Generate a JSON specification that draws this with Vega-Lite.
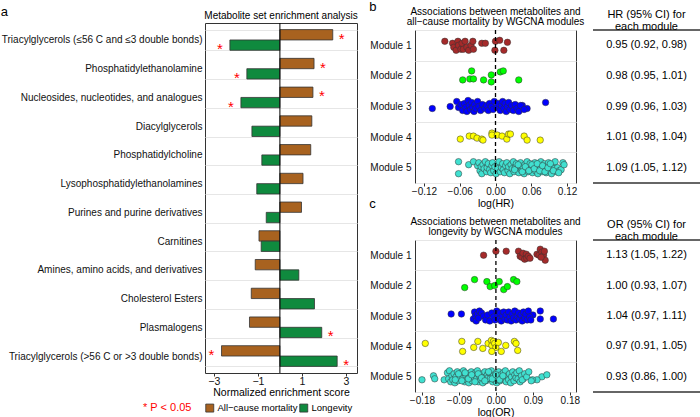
{
"$schema":"https://vega.github.io/schema/vega-lite/v6.json",
"padding":{"left":0,"top":1,"right":0,"bottom":0},
"background":"white",
"datasets":{
"mse":[
{"cls":"Triacylglycerols (≤56 C and ≤3 double bonds)","s":"All−cause mortality","v":2.4,"sig":true},
{"cls":"Triacylglycerols (≤56 C and ≤3 double bonds)","s":"Longevity","v":-2.27,"sig":true},
{"cls":"Phosphatidylethanolamine","s":"All−cause mortality","v":1.55,"sig":true},
{"cls":"Phosphatidylethanolamine","s":"Longevity","v":-1.5,"sig":true},
{"cls":"Nucleosides, nucleotides, and analogues","s":"All−cause mortality","v":1.5,"sig":true},
{"cls":"Nucleosides, nucleotides, and analogues","s":"Longevity","v":-1.77,"sig":true},
{"cls":"Diacylglycerols","s":"All−cause mortality","v":1.45,"sig":false},
{"cls":"Diacylglycerols","s":"Longevity","v":-1.27,"sig":false},
{"cls":"Phosphatidylcholine","s":"All−cause mortality","v":1.4,"sig":false},
{"cls":"Phosphatidylcholine","s":"Longevity","v":-0.82,"sig":false},
{"cls":"Lysophosphatidylethanolamines","s":"All−cause mortality","v":1.05,"sig":false},
{"cls":"Lysophosphatidylethanolamines","s":"Longevity","v":-1.05,"sig":false},
{"cls":"Purines and purine derivatives","s":"All−cause mortality","v":0.98,"sig":false},
{"cls":"Purines and purine derivatives","s":"Longevity","v":-0.62,"sig":false},
{"cls":"Carnitines","s":"All−cause mortality","v":-0.95,"sig":false},
{"cls":"Carnitines","s":"Longevity","v":-0.85,"sig":false},
{"cls":"Amines, amino acids, and derivatives","s":"All−cause mortality","v":-1.12,"sig":false},
{"cls":"Amines, amino acids, and derivatives","s":"Longevity","v":0.86,"sig":false},
{"cls":"Cholesterol Esters","s":"All−cause mortality","v":-1.3,"sig":false},
{"cls":"Cholesterol Esters","s":"Longevity","v":1.57,"sig":false},
{"cls":"Plasmalogens","s":"All−cause mortality","v":-1.38,"sig":false},
{"cls":"Plasmalogens","s":"Longevity","v":1.9,"sig":true},
{"cls":"Triacylglycerols (>56 C or >3 double bonds)","s":"All−cause mortality","v":-2.65,"sig":true},
{"cls":"Triacylglycerols (>56 C or >3 double bonds)","s":"Longevity","v":2.6,"sig":true}
],
"hr":[
{"m":1,"x":-0.085,"j":-4},{"m":1,"x":-0.072,"j":-2},{"m":1,"x":-0.070,"j":2},{"m":1,"x":-0.066,"j":5},{"m":1,"x":-0.063,"j":-4},{"m":1,"x":-0.062,"j":0},{"m":1,"x":-0.058,"j":4},{"m":1,"x":-0.056,"j":-2},{"m":1,"x":-0.054,"j":4},{"m":1,"x":-0.051,"j":-4},{"m":1,"x":-0.048,"j":2},{"m":1,"x":-0.045,"j":5},{"m":1,"x":-0.041,"j":0},{"m":1,"x":-0.038,"j":-4},{"m":1,"x":-0.037,"j":4},{"m":1,"x":-0.023,"j":-2},{"m":1,"x":-0.017,"j":-2},{"m":1,"x":-0.001,"j":5},{"m":1,"x":0.000,"j":-4},{"m":1,"x":0.007,"j":-5},{"m":1,"x":0.014,"j":5},{"m":1,"x":0.020,"j":-3},
{"m":2,"x":-0.040,"j":-5},{"m":2,"x":-0.055,"j":4},{"m":2,"x":-0.043,"j":3},{"m":2,"x":-0.037,"j":3},{"m":2,"x":-0.020,"j":4},{"m":2,"x":-0.007,"j":-1},{"m":2,"x":-0.007,"j":6},{"m":2,"x":0.008,"j":-4},{"m":2,"x":0.013,"j":-5},{"m":2,"x":0.039,"j":4},
{"m":3,"x":-0.106,"j":2},{"m":3,"x":-0.076,"j":0},{"m":3,"x":0.084,"j":-4},{"m":3,"x":0.053,"j":2},{"m":3,"x":0.045,"j":-1},
{"m":3,"x":-0.065,"j":-5},{"m":3,"x":-0.062,"j":1},{"m":3,"x":-0.058,"j":-2},{"m":3,"x":-0.055,"j":4},{"m":3,"x":-0.052,"j":-3},{"m":3,"x":-0.050,"j":1},{"m":3,"x":-0.048,"j":5},{"m":3,"x":-0.046,"j":-6},{"m":3,"x":-0.044,"j":-1},{"m":3,"x":-0.042,"j":3},{"m":3,"x":-0.040,"j":-4},{"m":3,"x":-0.038,"j":1},{"m":3,"x":-0.036,"j":5},{"m":3,"x":-0.035,"j":-2},{"m":3,"x":-0.033,"j":2},{"m":3,"x":-0.030,"j":-5},{"m":3,"x":-0.028,"j":0},{"m":3,"x":-0.025,"j":4},{"m":3,"x":-0.022,"j":-2},{"m":3,"x":-0.018,"j":2},{"m":3,"x":-0.015,"j":-1},{"m":3,"x":-0.012,"j":4},{"m":3,"x":-0.010,"j":-3},{"m":3,"x":-0.007,"j":0},{"m":3,"x":-0.004,"j":3},{"m":3,"x":-0.002,"j":-5},{"m":3,"x":0.002,"j":1},{"m":3,"x":0.005,"j":-3},{"m":3,"x":0.008,"j":4},{"m":3,"x":0.010,"j":-1},{"m":3,"x":0.012,"j":-5},{"m":3,"x":0.014,"j":2},{"m":3,"x":0.016,"j":-3},{"m":3,"x":0.018,"j":5},{"m":3,"x":0.020,"j":0},{"m":3,"x":0.022,"j":-4},{"m":3,"x":0.024,"j":3},{"m":3,"x":0.027,"j":-1},{"m":3,"x":0.030,"j":4},{"m":3,"x":0.033,"j":-2},{"m":3,"x":0.036,"j":2},{"m":3,"x":0.039,"j":5},{"m":3,"x":0.042,"j":-1},{"m":3,"x":0.048,"j":3},
{"m":4,"x":-0.059,"j":2},{"m":4,"x":-0.044,"j":-1},{"m":4,"x":-0.037,"j":-1},{"m":4,"x":-0.031,"j":1},{"m":4,"x":-0.023,"j":2},{"m":4,"x":-0.021,"j":3},{"m":4,"x":-0.006,"j":-4},{"m":4,"x":-0.006,"j":-2},{"m":4,"x":0.003,"j":-2},{"m":4,"x":0.011,"j":-1},{"m":4,"x":0.019,"j":2},{"m":4,"x":0.022,"j":-3},{"m":4,"x":0.025,"j":-3},{"m":4,"x":0.048,"j":-1},{"m":4,"x":0.053,"j":3},{"m":4,"x":0.075,"j":3},
{"m":5,"x":-0.062,"j":-6},{"m":5,"x":-0.062,"j":6},{"m":5,"x":-0.045,"j":-3},{"m":5,"x":-0.037,"j":-6},{"m":5,"x":-0.030,"j":-2},
{"m":5,"x":-0.028,"j":-5},{"m":5,"x":-0.026,"j":3},{"m":5,"x":-0.024,"j":-1},{"m":5,"x":-0.023,"j":6},{"m":5,"x":-0.021,"j":-3},{"m":5,"x":-0.019,"j":1},{"m":5,"x":-0.017,"j":-6},{"m":5,"x":-0.015,"j":4},{"m":5,"x":-0.014,"j":0},{"m":5,"x":-0.012,"j":-4},{"m":5,"x":-0.010,"j":2},{"m":5,"x":-0.008,"j":5},{"m":5,"x":-0.006,"j":-2},{"m":5,"x":-0.005,"j":-5},{"m":5,"x":-0.003,"j":3},{"m":5,"x":-0.001,"j":-1},{"m":5,"x":0.001,"j":6},{"m":5,"x":0.003,"j":-3},{"m":5,"x":0.004,"j":1},{"m":5,"x":0.006,"j":-6},{"m":5,"x":0.008,"j":4},{"m":5,"x":0.010,"j":0},{"m":5,"x":0.012,"j":-4},{"m":5,"x":0.013,"j":2},{"m":5,"x":0.015,"j":5},{"m":5,"x":0.017,"j":-2},{"m":5,"x":0.019,"j":-5},{"m":5,"x":0.021,"j":3},{"m":5,"x":0.022,"j":-1},{"m":5,"x":0.024,"j":6},{"m":5,"x":0.026,"j":-3},{"m":5,"x":0.028,"j":1},{"m":5,"x":0.030,"j":-6},{"m":5,"x":0.031,"j":4},{"m":5,"x":0.033,"j":0},{"m":5,"x":0.035,"j":-4},{"m":5,"x":0.037,"j":2},{"m":5,"x":0.039,"j":5},{"m":5,"x":0.040,"j":-2},{"m":5,"x":0.042,"j":-5},{"m":5,"x":0.044,"j":3},{"m":5,"x":0.046,"j":-1},{"m":5,"x":0.048,"j":6},{"m":5,"x":0.049,"j":-3},{"m":5,"x":0.051,"j":1},{"m":5,"x":0.053,"j":-6},{"m":5,"x":0.055,"j":4},{"m":5,"x":0.057,"j":0},{"m":5,"x":0.058,"j":-4},{"m":5,"x":0.060,"j":2},{"m":5,"x":0.062,"j":5},{"m":5,"x":0.064,"j":-2},{"m":5,"x":0.066,"j":-5},{"m":5,"x":0.067,"j":3},{"m":5,"x":0.069,"j":-1},{"m":5,"x":0.071,"j":6},{"m":5,"x":0.073,"j":-3},{"m":5,"x":0.075,"j":1},{"m":5,"x":0.076,"j":-6},{"m":5,"x":0.078,"j":4},{"m":5,"x":0.080,"j":0},{"m":5,"x":0.082,"j":-4},{"m":5,"x":0.084,"j":2},{"m":5,"x":0.085,"j":5},{"m":5,"x":0.087,"j":-2},{"m":5,"x":0.089,"j":-5},{"m":5,"x":0.091,"j":3},{"m":5,"x":0.093,"j":-1},{"m":5,"x":0.094,"j":6},{"m":5,"x":0.096,"j":-3},{"m":5,"x":0.098,"j":1},{"m":5,"x":0.100,"j":-6},{"m":5,"x":0.102,"j":4},{"m":5,"x":0.104,"j":0},{"m":5,"x":0.107,"j":3},{"m":5,"x":0.110,"j":2},{"m":5,"x":0.113,"j":-5},{"m":5,"x":0.115,"j":-3},
{"m":5,"x":0.032,"j":2},{"m":5,"x":0.038,"j":-3},{"m":5,"x":0.045,"j":4},{"m":5,"x":0.050,"j":-1},{"m":5,"x":0.056,"j":3},{"m":5,"x":0.061,"j":-3},{"m":5,"x":0.065,"j":1},{"m":5,"x":0.070,"j":-4},{"m":5,"x":0.074,"j":3},{"m":5,"x":0.079,"j":-2},{"m":5,"x":0.083,"j":4},{"m":5,"x":0.088,"j":0},{"m":5,"x":0.092,"j":-4},{"m":5,"x":0.097,"j":3},{"m":5,"x":0.106,"j":5}
],
"or":[
{"m":1,"x":-0.030,"j":0},{"m":1,"x":0.000,"j":-4},{"m":1,"x":0.025,"j":-4},{"m":1,"x":0.055,"j":-4},{"m":1,"x":0.059,"j":1},{"m":1,"x":0.063,"j":2},{"m":1,"x":0.066,"j":-2},{"m":1,"x":0.070,"j":4},{"m":1,"x":0.074,"j":-1},{"m":1,"x":0.075,"j":3},{"m":1,"x":0.079,"j":1},{"m":1,"x":0.083,"j":3},{"m":1,"x":0.100,"j":-1},{"m":1,"x":0.105,"j":0},{"m":1,"x":0.108,"j":-6},{"m":1,"x":0.112,"j":-3},{"m":1,"x":0.116,"j":0},{"m":1,"x":0.118,"j":-4},{"m":1,"x":0.120,"j":5},{"m":1,"x":0.110,"j":2},
{"m":2,"x":-0.076,"j":2},{"m":2,"x":-0.052,"j":-6},{"m":2,"x":-0.022,"j":-4},{"m":2,"x":-0.014,"j":1},{"m":2,"x":-0.003,"j":0},{"m":2,"x":0.008,"j":-4},{"m":2,"x":0.019,"j":4},{"m":2,"x":0.028,"j":1},{"m":2,"x":0.043,"j":-6},{"m":2,"x":0.051,"j":-4},
{"m":3,"x":-0.109,"j":-2},{"m":3,"x":-0.084,"j":-2},{"m":3,"x":0.140,"j":3},{"m":3,"x":0.108,"j":3},{"m":3,"x":0.108,"j":-5},{"m":3,"x":0.090,"j":-1},
{"m":3,"x":-0.055,"j":3},{"m":3,"x":-0.052,"j":-4},{"m":3,"x":-0.050,"j":0},{"m":3,"x":-0.048,"j":5},{"m":3,"x":-0.045,"j":-2},{"m":3,"x":-0.042,"j":2},{"m":3,"x":-0.040,"j":-5},{"m":3,"x":-0.035,"j":-3},{"m":3,"x":-0.030,"j":0},{"m":3,"x":-0.025,"j":4},{"m":3,"x":-0.020,"j":-1},{"m":3,"x":-0.015,"j":5},{"m":3,"x":-0.010,"j":-3},{"m":3,"x":-0.006,"j":1},{"m":3,"x":-0.002,"j":4},{"m":3,"x":0.002,"j":-5},{"m":3,"x":0.005,"j":-1},{"m":3,"x":0.008,"j":3},{"m":3,"x":0.010,"j":-3},{"m":3,"x":0.013,"j":5},{"m":3,"x":0.016,"j":0},{"m":3,"x":0.019,"j":-4},{"m":3,"x":0.022,"j":3},{"m":3,"x":0.025,"j":-1},{"m":3,"x":0.028,"j":4},{"m":3,"x":0.031,"j":-4},{"m":3,"x":0.034,"j":1},{"m":3,"x":0.037,"j":5},{"m":3,"x":0.040,"j":-2},{"m":3,"x":0.043,"j":2},{"m":3,"x":0.046,"j":-5},{"m":3,"x":0.049,"j":4},{"m":3,"x":0.052,"j":0},{"m":3,"x":0.055,"j":-3},{"m":3,"x":0.058,"j":3},{"m":3,"x":0.061,"j":-1},{"m":3,"x":0.064,"j":5},{"m":3,"x":0.067,"j":-4},{"m":3,"x":0.070,"j":2},{"m":3,"x":0.073,"j":-2},{"m":3,"x":0.076,"j":4},{"m":3,"x":0.079,"j":-5},{"m":3,"x":0.082,"j":1},{"m":3,"x":0.085,"j":4},
{"m":4,"x":-0.172,"j":-3},{"m":4,"x":-0.083,"j":-5},{"m":4,"x":-0.081,"j":5},{"m":4,"x":-0.054,"j":1},{"m":4,"x":-0.044,"j":-5},{"m":4,"x":-0.032,"j":2},{"m":4,"x":-0.019,"j":-3},{"m":4,"x":-0.011,"j":-6},{"m":4,"x":-0.010,"j":-1},{"m":4,"x":-0.006,"j":-5},{"m":4,"x":-0.003,"j":-3},{"m":4,"x":0.000,"j":1},{"m":4,"x":-0.010,"j":5},{"m":4,"x":0.006,"j":-4},{"m":4,"x":0.013,"j":5},{"m":4,"x":0.024,"j":-1},{"m":4,"x":0.045,"j":-5},{"m":4,"x":0.049,"j":-3},{"m":4,"x":0.053,"j":4},
{"m":5,"x":-0.180,"j":3},{"m":5,"x":-0.152,"j":-1},{"m":5,"x":-0.149,"j":2},{"m":5,"x":-0.126,"j":3},{"m":5,"x":0.112,"j":0},{"m":5,"x":0.124,"j":-2},{"m":5,"x":0.100,"j":3},{"m":5,"x":0.089,"j":3},{"m":5,"x":0.067,"j":2},
{"m":5,"x":-0.118,"j":-4},{"m":5,"x":-0.115,"j":2},{"m":5,"x":-0.113,"j":-6},{"m":5,"x":-0.110,"j":5},{"m":5,"x":-0.107,"j":-1},{"m":5,"x":-0.105,"j":3},{"m":5,"x":-0.102,"j":-3},{"m":5,"x":-0.100,"j":6},{"m":5,"x":-0.097,"j":0},{"m":5,"x":-0.094,"j":-5},{"m":5,"x":-0.092,"j":4},{"m":5,"x":-0.089,"j":-2},{"m":5,"x":-0.087,"j":1},{"m":5,"x":-0.084,"j":-4},{"m":5,"x":-0.081,"j":2},{"m":5,"x":-0.079,"j":-6},{"m":5,"x":-0.076,"j":5},{"m":5,"x":-0.073,"j":-1},{"m":5,"x":-0.071,"j":3},{"m":5,"x":-0.068,"j":-3},{"m":5,"x":-0.066,"j":6},{"m":5,"x":-0.063,"j":0},{"m":5,"x":-0.060,"j":-5},{"m":5,"x":-0.058,"j":4},{"m":5,"x":-0.055,"j":-2},{"m":5,"x":-0.053,"j":1},{"m":5,"x":-0.050,"j":-4},{"m":5,"x":-0.047,"j":2},{"m":5,"x":-0.045,"j":-6},{"m":5,"x":-0.042,"j":5},{"m":5,"x":-0.040,"j":-1},{"m":5,"x":-0.037,"j":3},{"m":5,"x":-0.034,"j":-3},{"m":5,"x":-0.032,"j":6},{"m":5,"x":-0.029,"j":0},{"m":5,"x":-0.027,"j":-5},{"m":5,"x":-0.024,"j":4},{"m":5,"x":-0.021,"j":-2},{"m":5,"x":-0.019,"j":1},{"m":5,"x":-0.016,"j":-4},{"m":5,"x":-0.014,"j":2},{"m":5,"x":-0.011,"j":-6},{"m":5,"x":-0.008,"j":5},{"m":5,"x":-0.006,"j":-1},{"m":5,"x":-0.003,"j":3},{"m":5,"x":-0.001,"j":-3},{"m":5,"x":0.002,"j":6},{"m":5,"x":0.005,"j":0},{"m":5,"x":0.007,"j":-5},{"m":5,"x":0.010,"j":4},{"m":5,"x":0.012,"j":-2},{"m":5,"x":0.015,"j":1},{"m":5,"x":0.018,"j":-4},{"m":5,"x":0.020,"j":2},{"m":5,"x":0.023,"j":-6},{"m":5,"x":0.025,"j":5},{"m":5,"x":0.028,"j":-1},{"m":5,"x":0.031,"j":3},{"m":5,"x":0.033,"j":-3},{"m":5,"x":0.036,"j":6},{"m":5,"x":0.038,"j":0},{"m":5,"x":0.041,"j":-5},{"m":5,"x":0.044,"j":4},{"m":5,"x":0.046,"j":-2},{"m":5,"x":0.049,"j":1},{"m":5,"x":0.051,"j":-4},{"m":5,"x":0.054,"j":2},{"m":5,"x":0.057,"j":-6},{"m":5,"x":0.059,"j":5},{"m":5,"x":0.062,"j":-1},{"m":5,"x":0.064,"j":3},{"m":5,"x":0.070,"j":-3},{"m":5,"x":0.075,"j":0},{"m":5,"x":0.080,"j":-5},{"m":5,"x":0.086,"j":4},
{"m":5,"x":-0.099,"j":3},{"m":5,"x":-0.091,"j":-3},{"m":5,"x":-0.083,"j":4},{"m":5,"x":-0.075,"j":-4},{"m":5,"x":-0.067,"j":2},{"m":5,"x":-0.059,"j":-2},{"m":5,"x":-0.051,"j":5},{"m":5,"x":-0.043,"j":-3},{"m":5,"x":-0.035,"j":1},{"m":5,"x":-0.027,"j":4},{"m":5,"x":-0.018,"j":-5},{"m":5,"x":-0.009,"j":2},{"m":5,"x":0.000,"j":-2},{"m":5,"x":0.009,"j":3},{"m":5,"x":0.017,"j":-1}
],
"hrtab":[
{"m":1,"t":"0.95 (0.92, 0.98)"},{"m":2,"t":"0.98 (0.95, 1.01)"},{"m":3,"t":"0.99 (0.96, 1.03)"},{"m":4,"t":"1.01 (0.98, 1.04)"},{"m":5,"t":"1.09 (1.05, 1.12)"}
],
"ortab":[
{"m":1,"t":"1.13 (1.05, 1.22)"},{"m":2,"t":"1.00 (0.93, 1.07)"},{"m":3,"t":"1.04 (0.97, 1.11)"},{"m":4,"t":"0.97 (0.91, 1.05)"},{"m":5,"t":"0.93 (0.86, 1.00)"}
]
},
"hconcat":[
{"title":{"text":"a","anchor":"start","frame":"bounds","fontSize":13,"offset":-8},
"vconcat":[
{
"width":152,"height":350,
"title":{"text":"Metabolite set enrichment analysis","fontSize":10,"offset":0,"dy":3},
"layer":[
{"data":{"name":"mse"},
"mark":{"type":"bar","stroke":"#333","strokeWidth":0.8},
"encoding":{
"y":{"field":"cls","type":"nominal","sort":null,"scale":{"paddingInner":0.28,"paddingOuter":0.23},
"axis":{"title":null,"grid":true,"tickBand":"extent","ticks":false,"labelPadding":3,"labelFontSize":10,"labelLimit":300}},
"yOffset":{"field":"s","type":"nominal","sort":["All−cause mortality","Longevity"]},
"x":{"field":"v","type":"quantitative","scale":{"domain":[-3.4,3.5],"nice":false},"axis":{"values":[-3,-2,-1,0,1,2,3],"title":"Normalized enrichment score","grid":false,"labelOverlap":false,"labelFontSize":10.5,"titleFontSize":10.5,"labelPadding":0,"titlePadding":1}},
"color":{"field":"s","type":"nominal","scale":{"domain":["All−cause mortality","Longevity"],"range":["#A8621F","#0F8A3E"]},
"legend":{"orient":"none","legendX":-62,"legendY":380,"direction":"horizontal","title":"* P < 0.05","titleOrient":"left","titleColor":"#FF0000","titleFontSize":11,"titleFontWeight":"normal","titlePadding":13,"symbolType":"square","symbolSize":64,"symbolStrokeColor":"#333","symbolStrokeWidth":0.8,"labelFontSize":9.5,"labelColor":"#000","columnPadding":0,"labelOffset":3}}
}},
{"data":{"values":[{}]},"mark":{"type":"rule","color":"#000","strokeWidth":1},"encoding":{"x":{"datum":0}}},
{"data":{"name":"mse"},"transform":[{"filter":"datum.sig && datum.v > 0"}],
"mark":{"type":"text","text":"*","color":"#FF0000","fontSize":15,"align":"center","baseline":"middle","dx":9,"dy":4},
"encoding":{"y":{"field":"cls","type":"nominal","sort":null},"yOffset":{"field":"s","type":"nominal"},"x":{"field":"v","type":"quantitative"}}},
{"data":{"name":"mse"},"transform":[{"filter":"datum.sig && datum.v < 0"}],
"mark":{"type":"text","text":"*","color":"#FF0000","fontSize":15,"align":"center","baseline":"middle","dx":-10,"dy":4},
"encoding":{"y":{"field":"cls","type":"nominal","sort":null},"yOffset":{"field":"s","type":"nominal"},"x":{"field":"v","type":"quantitative"}}}
]
}
]},
{
"vconcat":[
{"width":10,"height":1,"view":{"stroke":null},"data":{"values":[]},"mark":"point","encoding":{}},
{"vconcat":[
{"title":{"text":"b","anchor":"start","frame":"bounds","fontSize":13,"offset":-8},
"hconcat":[
{"width":161,"height":153,
"title":{"text":["Associations between metabolites and","all−cause mortality by WGCNA modules"],"fontSize":10,"lineHeight":10.5,"offset":-2},
"layer":[
{"data":{"name":"hr"},"mark":{"type":"circle","size":42,"opacity":1,"stroke":"#333","strokeWidth":0.5},
"encoding":{
"x":{"field":"x","type":"quantitative","scale":{"domain":[-0.135,0.135],"nice":false},"axis":{"values":[-0.12,-0.06,0,0.06,0.12],"format":".2f","title":"log(HR)","grid":false,"labelOverlap":false,"labelPadding":0,"titlePadding":2}},
"y":{"field":"m","type":"ordinal","scale":{"domain":[1,2,3,4,5],"paddingInner":0,"paddingOuter":0},"axis":{"title":null,"labelExpr":"datum.label ? 'Module ' + datum.label : ''","grid":true,"tickBand":"extent","ticks":false,"labelPadding":4,"labelFontSize":10}},
"yOffset":{"field":"j","type":"quantitative","scale":{"domain":[-15.3,15.3]}},
"fill":{"field":"m","type":"ordinal","scale":{"domain":[1,2,3,4,5],"range":["#A52A2A","#00FF00","#0000FF","#FFFF00","#40E0D0"]},"legend":null}
}},
{"data":{"values":[{}]},"mark":{"type":"rule","color":"#000","strokeWidth":1.3,"strokeDash":[4,3]},"encoding":{"x":{"datum":0}}}
]},
{"width":107,"height":153,"view":{"stroke":null},
"title":{"text":["HR (95% CI) for","each module"],"fontSize":11,"lineHeight":12.5,"offset":-3},
"layer":[
{"data":{"name":"hrtab"},"mark":{"type":"text","fontSize":11,"color":"#000"},
"encoding":{"y":{"field":"m","type":"ordinal","scale":{"domain":[1,2,3,4,5],"paddingInner":0,"paddingOuter":0},"axis":null},"text":{"field":"t"}}},
{"data":{"values":[{}]},"mark":{"type":"rule","color":"#333","strokeWidth":1.5},"encoding":{"y":{"datum":1,"type":"ordinal","bandPosition":0}}},
{"data":{"values":[{}]},"mark":{"type":"rule","color":"#333","strokeWidth":1.5},"encoding":{"y":{"datum":5,"type":"ordinal","bandPosition":1}}}
]}
],"spacing":17,"bounds":"flush","resolve":{"scale":{"fill":"independent","yOffset":"independent"}}},
{"title":{"text":"c","anchor":"start","frame":"bounds","fontSize":13,"offset":5},
"hconcat":[
{"width":161,"height":152,
"title":{"text":["Associations between metabolites and","longevity by WGCNA modules"],"fontSize":10,"lineHeight":10.5,"offset":-2},
"layer":[
{"data":{"name":"or"},"mark":{"type":"circle","size":42,"opacity":1,"stroke":"#333","strokeWidth":0.5},
"encoding":{
"x":{"field":"x","type":"quantitative","scale":{"domain":[-0.197,0.195],"nice":false},"axis":{"values":[-0.18,-0.09,0,0.09,0.18],"format":".2f","title":"log(OR)","grid":false,"labelOverlap":false,"labelPadding":0,"titlePadding":2}},
"y":{"field":"m","type":"ordinal","scale":{"domain":[1,2,3,4,5],"paddingInner":0,"paddingOuter":0},"axis":{"title":null,"labelExpr":"datum.label ? 'Module ' + datum.label : ''","grid":true,"tickBand":"extent","ticks":false,"labelPadding":4,"labelFontSize":10}},
"yOffset":{"field":"j","type":"quantitative","scale":{"domain":[-15.2,15.2]}},
"fill":{"field":"m","type":"ordinal","scale":{"domain":[1,2,3,4,5],"range":["#A52A2A","#00FF00","#0000FF","#FFFF00","#40E0D0"]},"legend":null}
}},
{"data":{"values":[{}]},"mark":{"type":"rule","color":"#000","strokeWidth":1.3,"strokeDash":[4,3]},"encoding":{"x":{"datum":0}}}
]},
{"width":107,"height":152,"view":{"stroke":null},
"title":{"text":["OR (95% CI) for","each module"],"fontSize":11,"lineHeight":12.5,"offset":-3},
"layer":[
{"data":{"name":"ortab"},"mark":{"type":"text","fontSize":11,"color":"#000"},
"encoding":{"y":{"field":"m","type":"ordinal","scale":{"domain":[1,2,3,4,5],"paddingInner":0,"paddingOuter":0},"axis":null},"text":{"field":"t"}}},
{"data":{"values":[{}]},"mark":{"type":"rule","color":"#333","strokeWidth":1.5},"encoding":{"y":{"datum":1,"type":"ordinal","bandPosition":0}}},
{"data":{"values":[{}]},"mark":{"type":"rule","color":"#333","strokeWidth":1.5},"encoding":{"y":{"datum":5,"type":"ordinal","bandPosition":1}}}
]}
],"spacing":17,"bounds":"flush","resolve":{"scale":{"fill":"independent","yOffset":"independent"}}}
],"spacing":-11,"resolve":{"scale":{"fill":"independent","yOffset":"independent"}}}
],"spacing":-23,"resolve":{"scale":{"fill":"independent","yOffset":"independent"}}}
],
"spacing":10,
"resolve":{"scale":{"color":"independent","fill":"independent","yOffset":"independent"},"legend":{"color":"independent"}},
"config":{
"font":"Liberation Sans",
"view":{"stroke":"#333","strokeWidth":1},
"axis":{"labelColor":"#111","titleColor":"#000","labelFontSize":10,"titleFontSize":10.5,"titleFontWeight":"normal","tickColor":"#333","domain":false,"tickSize":3,"gridColor":"#e6e6e6","gridWidth":1,"titlePadding":2,"labelPadding":2},
"title":{"fontSize":10,"fontWeight":"normal","color":"#000"},
"legend":{"labelFont":"Liberation Sans","titleFont":"Liberation Sans"}
}
}
